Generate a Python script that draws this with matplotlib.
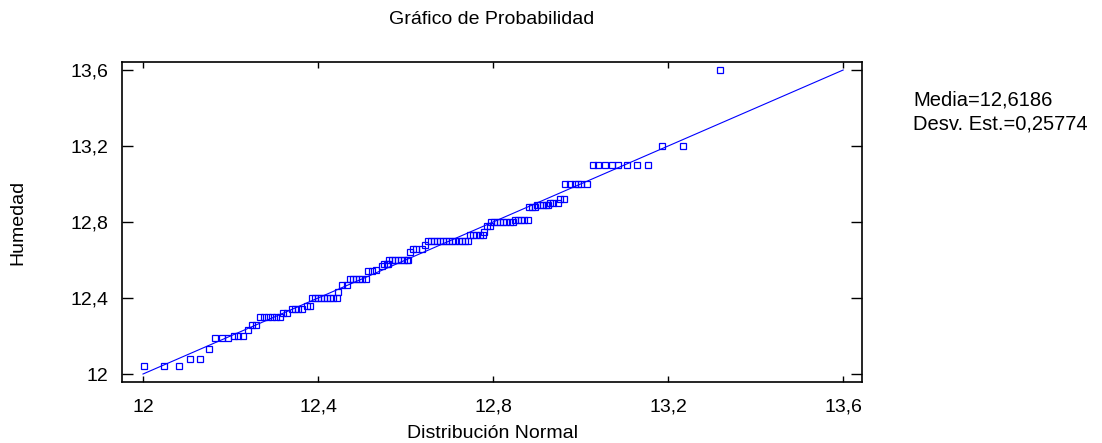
import matplotlib
matplotlib.use("Agg")
import matplotlib.pyplot as plt

plt.rcParams['font.family'] = ['Liberation Sans', 'DejaVu Sans']

# Sorted observations (Humedad) grouped by level, with their plotted normal-quantile positions
levels = [12.04, 12.08, 12.13, 12.19, 12.20, 12.23, 12.26, 12.30, 12.32, 12.34,
          12.36, 12.40, 12.43, 12.47, 12.50, 12.54, 12.55, 12.57, 12.58, 12.60,
          12.64, 12.66, 12.68, 12.70, 12.73, 12.75, 12.78, 12.80, 12.81, 12.88,
          12.89, 12.90, 12.92, 13.00, 13.10, 13.20, 13.60]
quantiles = [
    [12.002, 12.048, 12.082],
    [12.107, 12.130],
    [12.151],
    [12.165, 12.180, 12.194],
    [12.208, 12.217, 12.229],
    [12.240],
    [12.249, 12.258],
    [12.267, 12.276, 12.285, 12.294, 12.303, 12.313],
    [12.320, 12.329],
    [12.340, 12.347, 12.354, 12.363],
    [12.374, 12.381],
    [12.386, 12.393, 12.400, 12.407, 12.414, 12.421, 12.428, 12.435, 12.443],
    [12.446],
    [12.455, 12.466],
    [12.473, 12.480, 12.487, 12.494, 12.501, 12.510],
    [12.514, 12.523],
    [12.532],
    [12.546],
    [12.550, 12.557, 12.560],
    [12.562, 12.569, 12.576, 12.583, 12.590, 12.597, 12.604, 12.606],
    [12.610],
    [12.617, 12.624, 12.638],
    [12.645],
    [12.651, 12.658, 12.665, 12.672, 12.679, 12.686, 12.693, 12.700, 12.707,
     12.714, 12.721, 12.728, 12.735, 12.743],
    [12.747, 12.754, 12.761, 12.770, 12.777],
    [12.780],
    [12.785, 12.792],
    [12.795, 12.802, 12.809, 12.816, 12.823, 12.830, 12.838, 12.846],
    [12.850, 12.857, 12.864, 12.871, 12.880],
    [12.882, 12.890, 12.896],
    [12.900, 12.907, 12.914, 12.922, 12.926],
    [12.929, 12.936, 12.949],
    [12.953, 12.962],
    [12.965, 12.976, 12.987, 12.994, 13.001, 13.014],
    [13.029, 13.040, 13.056, 13.072, 13.086, 13.106, 13.129, 13.154],
    [13.186, 13.234],
    [13.319],
]

ref_line_x = [12.0, 13.6]
ref_line_y = [12.0, 13.6]

tick_values = [12.0, 12.4, 12.8, 13.2, 13.6]
tick_labels = ['12', '12,4', '12,8', '13,2', '13,6']

title = 'Gráfico de Probabilidad'
xlabel = 'Distribución Normal'
ylabel = 'Humedad'
stats_text = ['Media=12,6186', 'Desv. Est.=0,25774']

xs, ys = [], []
for lev, qs in zip(levels, quantiles):
    for q in qs:
        xs.append(q)
        ys.append(lev)

fig = plt.figure(figsize=(11.02, 4.43), dpi=100)
ax = fig.add_axes([0.1107, 0.1377, 0.6715, 0.7223])

blue = '#0000ff'
ax.plot(ref_line_x, ref_line_y, color=blue, lw=0.8)
ax.plot(xs, ys, ls='none', marker='s', ms=3.9, mfc='none', mec=blue, mew=0.9)

ax.set_xlim(11.952, 13.643)
ax.set_ylim(11.958, 13.642)
ax.set_xticks(tick_values)
ax.set_xticklabels(tick_labels)
ax.set_yticks(tick_values)
ax.set_yticklabels(tick_labels)
ax.tick_params(axis='both', which='both', direction='in', labelsize=14, width=1.0,
               top=True, right=True, colors='black')
ax.tick_params(axis='x', length=4.5, pad=12)
ax.tick_params(axis='y', length=8, pad=10)
for s in ax.spines.values():
    s.set_linewidth(1.2)

fs = 14
fig.text(0.4465, 1 - 20 / 443, title, ha='center', va='center', fontsize=fs)
fig.text(0.4465, 1 - 433 / 443, xlabel, ha='center', va='center', fontsize=fs)
fig.text(18 / 1102, 1 - 222 / 443, ylabel, ha='center', va='center', rotation=90, fontsize=fs)
fig.text(913 / 1102, 1 - 100 / 443, stats_text[0], ha='left', va='center', fontsize=14.5)
fig.text(913 / 1102, 1 - 124 / 443, stats_text[1], ha='left', va='center', fontsize=14.5)

fig.savefig('out.png', dpi=100)
